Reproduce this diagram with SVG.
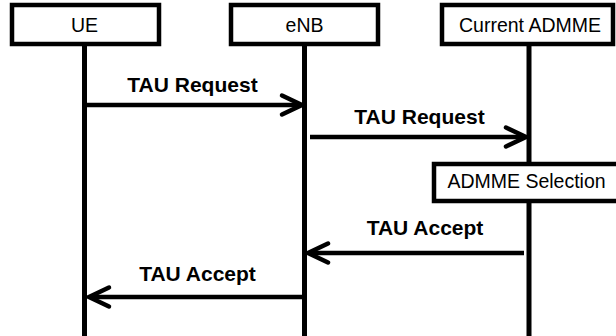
<svg xmlns="http://www.w3.org/2000/svg" width="616" height="336" viewBox="0 0 616 336">
  <defs>
    <style>
      .box { fill: #fff; stroke: #000; stroke-width: 4.5; }
      .life { stroke: #000; stroke-width: 5; fill: none; }
      .msg { stroke: #000; stroke-width: 4.5; fill: none; }
      .head { stroke: #000; stroke-width: 4.5; fill: none; stroke-linecap: round; stroke-linejoin: miter; }
      .lbl { font-family: "Liberation Sans", Arial, sans-serif; font-size: 19.5px; fill: #000; text-anchor: middle; }
      .msgtxt { font-family: "Liberation Sans", Arial, sans-serif; font-size: 21px; font-weight: bold; fill: #000; text-anchor: middle; }
    </style>
  </defs>
  <rect width="616" height="336" fill="#fff"/>

  <!-- lifelines and messages -->
  <g id="connectors">
    <line class="life" x1="84.5" y1="44" x2="84.5" y2="336"/>
    <line class="life" x1="304.5" y1="44" x2="304.5" y2="336"/>
    <line class="life" x1="529" y1="44" x2="529" y2="164"/>
    <line class="life" x1="529" y1="201" x2="529" y2="336"/>

    <g id="msg1">
      <line class="msg" x1="85" y1="105" x2="301" y2="105"/>
      <polyline class="head" points="282,95.5 302,105 282,114.5"/>
      <text class="msgtxt" x="192.5" y="92">TAU Request</text>
    </g>
    <g id="msg2">
      <line class="msg" x1="310" y1="137" x2="525" y2="137"/>
      <polyline class="head" points="506,127.5 526,137 506,146.5"/>
      <text class="msgtxt" x="419.5" y="124">TAU Request</text>
    </g>
    <g id="msg3">
      <line class="msg" x1="524" y1="253" x2="309" y2="253"/>
      <polyline class="head" points="328,243.5 308,253 328,262.5"/>
      <text class="msgtxt" x="425" y="235">TAU Accept</text>
    </g>
    <g id="msg4">
      <line class="msg" x1="304" y1="297" x2="90" y2="297"/>
      <polyline class="head" points="109,287.5 89,297 109,306.5"/>
      <text class="msgtxt" x="197.5" y="281">TAU Accept</text>
    </g>
  </g>

  <g id="ue">
    <rect class="box" x="12" y="5" width="147" height="39"/>
    <text class="lbl" x="84.5" y="32">UE</text>
  </g>
  <g id="enb">
    <rect class="box" x="231" y="5" width="147" height="39"/>
    <text class="lbl" x="304.5" y="32">eNB</text>
  </g>
  <g id="current-admme">
    <rect class="box" x="442" y="5" width="171" height="39"/>
    <text class="lbl" x="530" y="32">Current ADMME</text>
  </g>
  <g id="admme-selection">
    <rect class="box" x="434" y="164" width="190" height="37"/>
    <text class="lbl" x="526.5" y="188">ADMME Selection</text>
  </g>
</svg>
